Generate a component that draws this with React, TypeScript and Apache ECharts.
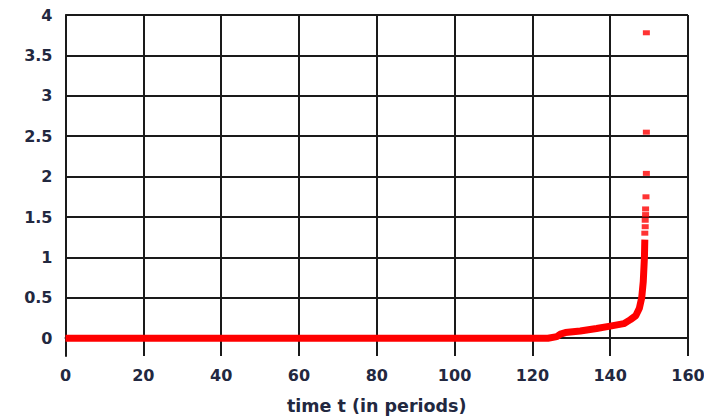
import React, { useEffect, useRef } from "react";
import * as echarts from "echarts";

// Tick values
const xTicks = [0, 20, 40, 60, 80, 100, 120, 140, 160];
const yTicks = [0, 0.5, 1, 1.5, 2, 2.5, 3, 3.5, 4];

// Main trajectory: flat, then a slow climb and a sharp blow-up near t ≈ 149
const pathT = [0, 124, 126.3, 127.2, 128.5, 132.3, 136.5, 140, 143.5, 145.2, 146.6, 147.5, 148.1, 148.5, 148.8, 148.9];
const pathY = [0, 0, 0.02, 0.05, 0.07, 0.09, 0.12, 0.15, 0.18, 0.23, 0.28, 0.37, 0.5, 0.7, 1.0, 1.22];

// Isolated samples above the steep part
const burstT = [148.9, 149.0, 149.0, 149.1, 149.1, 149.2, 149.3, 149.3, 149.3];
const burstY = [1.3, 1.38, 1.46, 1.53, 1.6, 1.75, 2.04, 2.55, 3.78];

const textColor = "#222840";
const gridColor = "#1a1a1a";
const font = "DejaVu Sans";

export default function App() {
  const ref = useRef<HTMLDivElement>(null);

  useEffect(() => {
    if (!ref.current) return;
    const chart = echarts.init(ref.current, undefined, { renderer: "svg" });
    chart.setOption({
      animation: false,
      backgroundColor: "#ffffff",
      grid: { left: 65.5, right: 24, top: 15, bottom: 59, containLabel: false },
      xAxis: {
        type: "value",
        min: 0,
        max: 160,
        interval: 20,
        name: "time t (in periods)",
        nameLocation: "middle",
        nameGap: 41,
        nameTextStyle: { fontFamily: font, fontSize: 17.5, fontWeight: "bold", color: textColor },
        axisLine: { show: true, lineStyle: { color: gridColor, width: 2 } },
        axisTick: { show: false },
        axisLabel: {
          fontFamily: font,
          fontSize: 16,
          fontWeight: "bold",
          color: textColor,
          margin: 11,
          formatter: (v: number) => (xTicks.includes(v) ? String(v) : ""),
        },
        splitLine: { show: true, lineStyle: { color: gridColor, width: 2 } },
      },
      yAxis: {
        type: "value",
        min: -0.22,
        max: 4,
        axisLine: { show: true, onZero: false, lineStyle: { color: gridColor, width: 2 } },
        axisTick: { show: false, customValues: yTicks },
        axisLabel: {
          customValues: yTicks,
          fontFamily: font,
          fontSize: 16,
          fontWeight: "bold",
          color: textColor,
          margin: 13,
          formatter: (v: number) => String(v),
        },
        splitLine: { show: true, lineStyle: { color: gridColor, width: 2 } },
      },
      series: [
        {
          type: "line",
          data: pathT.map((t, i) => [t, pathY[i]]),
          showSymbol: false,
          lineStyle: { color: "#ff0000", width: 7 },
          z: 3,
        },
        {
          type: "scatter",
          data: burstT.map((t, i) => [t, burstY[i]]),
          symbol: "rect",
          symbolSize: [7, 5],
          itemStyle: { color: "#ff0000" },
          z: 3,
        },
      ],
    });
    return () => chart.dispose();
  }, []);

  return <div ref={ref} style={{ width: 712, height: 420, marginLeft: -8, marginTop: -8 }} />;
}
